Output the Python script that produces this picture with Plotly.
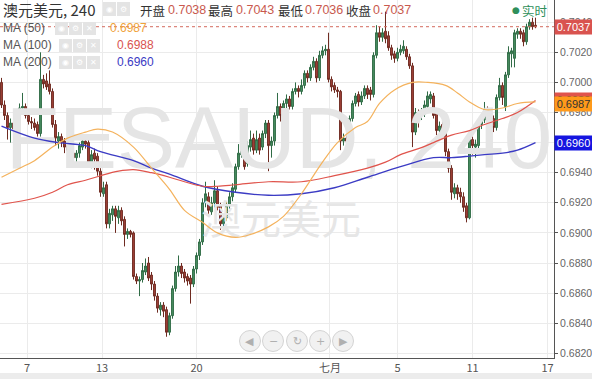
import plotly.graph_objects as go

# ---------------- data ----------------
opens = [0.7000,0.6985,0.6978,0.6970,0.6973,0.6969,0.6977,0.6983,0.6984,0.6978,
         0.6974,0.6973,0.6972,0.6966,0.7002,0.7001,0.6999,0.6994,0.6972,0.6961,
         0.6964,0.6961,0.6958,0.6955,0.6953,0.6950,0.6953,0.6957,0.6961,0.6960,
         0.6947,0.6953,0.6951,0.6941,0.6926,0.6932,0.6906,0.6912,0.6916,0.6910,
         0.6915,0.6909,0.6899,0.6901,0.6900,0.6871,0.6868,0.6869,0.6874,0.6880,
         0.6872,0.6866,0.6858,0.6849,0.6852,0.6849,0.6834,0.6845,0.6863,0.6874,
         0.6878,0.6874,0.6871,0.6870,0.6866,0.6876,0.6885,0.6894,0.6920,0.6924,
         0.6914,0.6920,0.6928,0.6918,0.6906,0.6910,0.6918,0.6924,0.6929,0.6944,
         0.6952,0.6955,0.6946,0.6957,0.6963,0.6955,0.6963,0.6957,0.6966,0.6973,
         0.6958,0.6961,0.6978,0.6984,0.6978,0.6986,0.6989,0.6984,0.6994,0.6996,
         0.6994,0.6998,0.7006,0.7003,0.7010,0.7014,0.7003,0.7018,0.7021,0.7022,
         0.7002,0.6998,0.6995,0.6994,0.6961,0.6963,0.6962,0.6976,0.6986,0.6992,
         0.6987,0.6991,0.6996,0.6995,0.6992,0.7018,0.7033,0.7030,0.7034,0.7031,
         0.7023,0.7019,0.7016,0.7020,0.7021,0.7022,0.7017,0.7011,0.6967,0.6980,
         0.6978,0.6979,0.6984,0.6989,0.6991,0.6980,0.6968,0.6972,0.6968,0.6954,
         0.6943,0.6926,0.6930,0.6927,0.6924,0.6918,0.6910,0.6962,0.6957,0.6958,
         0.6972,0.6975,0.6982,0.6979,0.6976,0.6970,0.6990,0.6998,0.6984,0.7005,
         0.7019,0.7016,0.7032,0.7034,0.7033,0.7027,0.7037,0.7040,0.7038]
highs = [0.7003,0.6988,0.6980,0.6976,0.6975,0.6979,0.6986,0.6993,0.6986,0.6980,
         0.6977,0.6976,0.6974,0.7020,0.7005,0.7006,0.7008,0.6996,0.6975,0.6967,
         0.6966,0.6963,0.6961,0.6958,0.6956,0.6955,0.6960,0.6965,0.6963,0.6962,
         0.6955,0.6956,0.6953,0.6943,0.6934,0.6934,0.6916,0.6918,0.6918,0.6918,
         0.6917,0.6911,0.6903,0.6902,0.6901,0.6873,0.6871,0.6880,0.6883,0.6884,
         0.6874,0.6868,0.6860,0.6854,0.6854,0.6851,0.6847,0.6865,0.6878,0.6885,
         0.6880,0.6876,0.6873,0.6872,0.6878,0.6887,0.6896,0.6923,0.6934,0.6927,
         0.6924,0.6935,0.6931,0.6920,0.6913,0.6921,0.6927,0.6933,0.6946,0.6959,
         0.6960,0.6958,0.6961,0.6968,0.6966,0.6968,0.6966,0.6968,0.6975,0.6975,
         0.6964,0.6980,0.6993,0.6986,0.6988,0.6992,0.6991,0.6996,0.7000,0.6998,
         0.7002,0.7008,0.7008,0.7012,0.7017,0.7016,0.7021,0.7024,0.7025,0.7033,
         0.7004,0.7000,0.6997,0.6995,0.6966,0.6965,0.6978,0.6988,0.6993,0.6994,
         0.6994,0.6998,0.6998,0.6997,0.7020,0.7038,0.7037,0.7036,0.7047,0.7034,
         0.7025,0.7021,0.7023,0.7025,0.7028,0.7024,0.7019,0.7013,0.6983,0.6982,
         0.6983,0.6988,0.6994,0.6994,0.6993,0.6982,0.6974,0.6975,0.6970,0.6956,
         0.6945,0.6933,0.6932,0.6930,0.6927,0.6920,0.6965,0.6964,0.6962,0.6975,
         0.6978,0.6987,0.6984,0.6981,0.6978,0.6992,0.7003,0.7000,0.7007,0.7024,
         0.7023,0.7035,0.7036,0.7036,0.7035,0.7039,0.7042,0.7043,0.7043]
lows = [0.6983,0.6975,0.6962,0.6960,0.6962,0.6966,0.6975,0.6979,0.6976,0.6972,
        0.6969,0.6968,0.6964,0.6964,0.6996,0.6995,0.6992,0.6970,0.6958,0.6956,
        0.6957,0.6953,0.6950,0.6946,0.6947,0.6947,0.6950,0.6955,0.6956,0.6944,
        0.6943,0.6942,0.6938,0.6924,0.6924,0.6903,0.6903,0.6908,0.6900,0.6906,
        0.6905,0.6891,0.6896,0.6897,0.6869,0.6866,0.6858,0.6867,0.6872,0.6868,
        0.6862,0.6855,0.6847,0.6845,0.6844,0.6831,0.6832,0.6843,0.6861,0.6871,
        0.6870,0.6867,0.6865,0.6853,0.6864,0.6873,0.6882,0.6892,0.6917,0.6912,
        0.6912,0.6917,0.6915,0.6902,0.6903,0.6908,0.6916,0.6921,0.6927,0.6942,
        0.6950,0.6942,0.6944,0.6954,0.6952,0.6953,0.6952,0.6955,0.6963,0.6941,
        0.6950,0.6958,0.6976,0.6974,0.6976,0.6983,0.6982,0.6982,0.6992,0.6990,
        0.6992,0.6996,0.7000,0.7001,0.7008,0.7000,0.7001,0.7016,0.7018,0.7000,
        0.6994,0.6993,0.6990,0.6955,0.6958,0.6956,0.6954,0.6974,0.6984,0.6984,
        0.6985,0.6989,0.6989,0.6988,0.6990,0.7016,0.7027,0.7027,0.7026,0.7021,
        0.7015,0.7013,0.7014,0.7018,0.7019,0.7015,0.7009,0.6957,0.6965,0.6970,
        0.6975,0.6977,0.6982,0.6986,0.6976,0.6965,0.6965,0.6963,0.6951,0.6940,
        0.6922,0.6923,0.6922,0.6920,0.6914,0.6907,0.6909,0.6952,0.6950,0.6955,
        0.6969,0.6973,0.6975,0.6972,0.6967,0.6968,0.6988,0.6985,0.6981,0.7003,
        0.7010,0.7010,0.7029,0.7029,0.7024,0.7025,0.7035,0.7035,0.7036]
closes = [0.6985,0.6978,0.6970,0.6973,0.6969,0.6977,0.6983,0.6984,0.6978,0.6974,
          0.6973,0.6970,0.6966,0.7002,0.6999,0.6997,0.6994,0.6972,0.6963,0.6964,
          0.6960,0.6957,0.6955,0.6951,0.6950,0.6953,0.6958,0.6961,0.6959,0.6947,
          0.6952,0.6949,0.6941,0.6927,0.6930,0.6906,0.6913,0.6916,0.6911,0.6915,
          0.6908,0.6899,0.6901,0.6899,0.6871,0.6868,0.6869,0.6875,0.6878,0.6870,
          0.6866,0.6858,0.6850,0.6852,0.6848,0.6834,0.6845,0.6863,0.6874,0.6878,
          0.6873,0.6870,0.6868,0.6866,0.6876,0.6885,0.6894,0.6920,0.6926,0.6915,
          0.6920,0.6928,0.6917,0.6906,0.6910,0.6919,0.6924,0.6930,0.6944,0.6953,
          0.6956,0.6944,0.6958,0.6962,0.6955,0.6962,0.6955,0.6966,0.6973,0.6958,
          0.6961,0.6978,0.6984,0.6978,0.6986,0.6989,0.6984,0.6994,0.6996,0.6994,
          0.6998,0.7006,0.7003,0.7010,0.7014,0.7003,0.7018,0.7021,0.7022,0.7002,
          0.6997,0.6995,0.6994,0.6961,0.6963,0.6961,0.6976,0.6986,0.6991,0.6987,
          0.6991,0.6996,0.6992,0.6992,0.7018,0.7033,0.7030,0.7033,0.7029,0.7023,
          0.7018,0.7016,0.7020,0.7022,0.7024,0.7017,0.7011,0.6967,0.6980,0.6978,
          0.6980,0.6985,0.6991,0.6992,0.6978,0.6968,0.6971,0.6966,0.6954,0.6943,
          0.6927,0.6930,0.6926,0.6924,0.6917,0.6910,0.6962,0.6958,0.6959,0.6972,
          0.6975,0.6982,0.6978,0.6975,0.6970,0.6990,0.6998,0.6990,0.7005,0.7020,
          0.7021,0.7033,0.7034,0.7032,0.7027,0.7037,0.7040,0.7037,0.7037]
bars = list(range(len(closes)))

ma50_x = [0, 6, 11, 17, 22, 28, 32, 37, 44, 50, 56, 61, 67, 72, 78, 83, 89, 94, 100,
          103, 107, 112, 118, 122, 126, 131, 137, 142, 148, 152, 156, 161, 167, 172, 178]
ma50_y = [0.6937, 0.6943, 0.6948, 0.6957, 0.6963, 0.6967, 0.6969, 0.6967, 0.6957, 0.6943,
          0.6929, 0.6915, 0.6907, 0.6900, 0.6897, 0.6899, 0.6904, 0.6911, 0.6926,
          0.6935, 0.6947, 0.6960, 0.6970, 0.6974, 0.6986, 0.6995, 0.7000, 0.7000,
          0.6998, 0.6993, 0.6987, 0.6982, 0.6983, 0.6986, 0.6987]
ma100_x = [0, 11, 17, 22, 28, 33, 39, 44, 50, 56, 61, 67, 72, 78, 89, 100, 111, 122,
           128, 133, 139, 144, 150, 156, 161, 167, 172, 178]
ma100_y = [0.6919, 0.6923, 0.6927, 0.6932, 0.6935, 0.6938, 0.6941, 0.6942, 0.6940,
           0.6937, 0.6934, 0.6931, 0.6931, 0.6932, 0.6934, 0.6934, 0.6938, 0.6943,
           0.6947, 0.6952, 0.6956, 0.6960, 0.6965, 0.6968, 0.6972, 0.6976, 0.6980, 0.6988]
ma200_x = [0, 11, 19, 28, 33, 44, 50, 56, 67, 78, 89, 100, 111, 122, 133, 144, 150,
           156, 161, 167, 172, 178]
ma200_y = [0.6971, 0.6963, 0.6960, 0.6958, 0.6954, 0.6948, 0.6943, 0.6939, 0.6931,
           0.6927, 0.6925, 0.6926, 0.6930, 0.6937, 0.6944, 0.6950, 0.6950, 0.6951,
           0.6952, 0.6953, 0.6955, 0.6960]

tick_pos = [8.5, 33.5, 65, 109.5, 132, 157, 182]
tick_text = ["7", "13", "20", "七月", "5", "11", "17"]

last_open, last_high, last_low, last_close = 0.7038, 0.7043, 0.7036, 0.7037
ma50_last, ma100_last, ma200_last = 0.6987, 0.6988, 0.6960

# ---------------- layout geometry ----------------
W, H = 592, 379
PW, PH = 554, 358
Y0, Y1 = 0.681688, 0.705475
X0, X1 = -0.5, 184.17
FONT = "Liberation Sans, Noto Sans CJK SC, sans-serif"
CJK = "Noto Sans CJK SC, Liberation Sans, sans-serif"

def px(x):
    return x / PW

def py(y):
    return 1 - y / PH

def ix(x):
    return X0 + (X1 - X0) * x / PW

def vy(y):
    return Y1 - (Y1 - Y0) * y / PH

fig = go.Figure()

# watermark (drawn first so it stays under the candles)
fig.add_trace(go.Scatter(x=[ix(279)], y=[vy(146)], mode="text", text=["FESAUD, 240"],
                         textposition="middle center",
                         textfont=dict(size=87, color="#e5e5e5", family=FONT),
                         hoverinfo="skip", showlegend=False))
fig.add_trace(go.Scatter(x=[ix(281)], y=[vy(224)], mode="text", text=["澳元美元"],
                         textposition="middle center",
                         textfont=dict(size=40, color="#e6e6e6", family=CJK),
                         hoverinfo="skip", showlegend=False))

fig.add_trace(go.Candlestick(
    x=bars, open=opens, high=highs, low=lows, close=closes,
    increasing=dict(line=dict(color="#2f6b45", width=1), fillcolor="#4a8e62"),
    decreasing=dict(line=dict(color="#6e2a20", width=1), fillcolor="#a3453a"),
    whiskerwidth=0, hoverinfo="skip", showlegend=False))

fig.add_trace(go.Scatter(x=ma200_x, y=ma200_y, mode="lines",
                         line=dict(color="#3b3bc4", width=1.4, shape="spline"),
                         hoverinfo="skip", showlegend=False))
fig.add_trace(go.Scatter(x=ma100_x, y=ma100_y, mode="lines",
                         line=dict(color="#e0544c", width=1.2, shape="spline"),
                         hoverinfo="skip", showlegend=False))
fig.add_trace(go.Scatter(x=ma50_x, y=ma50_y, mode="lines",
                         line=dict(color="#f4b25c", width=1.2, shape="spline"),
                         hoverinfo="skip", showlegend=False))

shapes = []
# current-price dotted line
shapes.append(dict(type="line", xref="paper", yref="y", x0=0, x1=1,
                   y0=last_close, y1=last_close,
                   line=dict(color="#d46a5e", width=1, dash="dot")))
# bottom grey strip
shapes.append(dict(type="rect", xref="paper", yref="paper", x0=-0.01, x1=px(600),
                   y0=py(380), y1=py(373), fillcolor="#ececec", line=dict(width=0),
                   layer="above"))

annotations = []

def text(x, y, s, size=12, color="#444", family=FONT, anchor="left"):
    annotations.append(dict(xref="paper", yref="paper", x=px(x), y=py(y), text=s,
                            showarrow=False, xanchor=anchor, yanchor="middle",
                            font=dict(size=size, color=color, family=family)))

def icon_box(x, y, w, h, glyph):
    shapes.append(dict(type="rect", xref="paper", yref="paper", x0=px(x), x1=px(x + w),
                       y0=py(y + h), y1=py(y), fillcolor="#e4e4e4",
                       line=dict(width=0)))
    annotations.append(dict(xref="paper", yref="paper", x=px(x + w / 2), y=py(y + h / 2),
                            text=glyph, showarrow=False, xanchor="center",
                            yanchor="middle",
                            font=dict(size=8, color="#ffffff", family="DejaVu Sans")))

# header
text(1, 9, "澳元美元, 240", size=15, color="#333", family=CJK)
icon_box(103, 2, 13, 14, "◉")
icon_box(117, 2, 13, 14, "⚙")
val_col = "#c9594e"
text(138, 10, "开盘", 12.5, "#333", CJK)
text(166, 10, "%.4f" % last_open, 12.5, val_col)
text(206, 10, "最高", 12.5, "#333", CJK)
text(234, 10, "%.4f" % last_high, 12.5, val_col)
text(276, 10, "最低", 12.5, "#333", CJK)
text(303, 10, "%.4f" % last_low, 12.5, val_col)
text(344, 10, "收盘", 12.5, "#333", CJK)
text(371, 10, "%.4f" % last_close, 12.5, val_col)
text(510, 10, "●", 9, "#2f8f5b", "DejaVu Sans")
text(520, 10, "实时", 12.5, "#2f8f5b", CJK)

# MA legend rows
text(1, 28, "MA (50)", 12, "#555")
for k, g in enumerate(["◉", "⚙", "✕"]):
    icon_box(55 + 14 * k, 22, 13, 13, g)
text(108, 28, "%.4f" % ma50_last, 12, "#f0a23a")
text(1, 45, "MA (100)", 12, "#555")
for k, g in enumerate(["◉", "⚙", "✕"]):
    icon_box(59 + 14 * k, 39, 13, 13, g)
text(115, 45, "%.4f" % ma100_last, 12, "#d9534f")
text(1, 62, "MA (200)", 12, "#555")
for k, g in enumerate(["◉", "⚙", "✕"]):
    icon_box(59 + 14 * k, 56, 13, 13, g)
text(115, 62, "%.4f" % ma200_last, 12, "#3b3bc4")

# right-side price tags
def tag(price, bg, fg, dy=0):
    annotations.append(dict(xref="paper", yref="y", x=1.0, y=price, yshift=dy,
                            text="%.4f" % price, showarrow=False, xanchor="left",
                            yanchor="middle", bgcolor=bg, borderpad=1, width=35,
                            font=dict(size=11, color=fg, family=FONT)))

tag(ma100_last, "#e0544c", "#333")
tag(ma50_last, "#ff9a1a", "#333", dy=-2)
tag(ma200_last, "#1515e0", "#ffffff")
tag(last_close, "#d9534f", "#ffffff")

# navigation buttons
for cx, g in zip([250, 273, 297, 320, 343], ["◀", "−", "↻", "+", "▶"]):
    r = 10.5
    shapes.append(dict(type="circle", xref="paper", yref="paper",
                       x0=px(cx - r), x1=px(cx + r), y0=py(341 + r), y1=py(341 - r),
                       fillcolor="rgba(240,240,240,0.9)", line=dict(color="#d4d4d4", width=1)))
    annotations.append(dict(xref="paper", yref="paper", x=px(cx), y=py(341), text=g,
                            showarrow=False, xanchor="center", yanchor="middle",
                            font=dict(size=11, color="#b0b0b0", family="DejaVu Sans")))

fig.update_layout(
    width=W, height=H,
    margin=dict(l=0, r=W - PW, t=0, b=H - PH),
    paper_bgcolor="white", plot_bgcolor="white",
    showlegend=False, boxgap=0.12,
    shapes=shapes, annotations=annotations,
    font=dict(family=FONT),
    xaxis=dict(range=[X0, X1], tickvals=tick_pos, ticktext=tick_text,
               showgrid=True, gridcolor="#ebebeb", gridwidth=1,
               showline=True, linecolor="#555", linewidth=1, mirror=False,
               ticks="", zeroline=False, rangeslider=dict(visible=False),
               tickfont=dict(size=11, color="#555", family=CJK),
               fixedrange=True),
    yaxis=dict(range=[Y0, Y1], side="right", dtick=0.002, tick0=0.682,
               tickformat=".4f", ticks="outside", ticklen=3, tickcolor="#555",
               showline=True, linecolor="#555", linewidth=1,
               showgrid=True, gridcolor="#ebebeb", gridwidth=1, zeroline=False,
               tickfont=dict(size=10.5, color="#666", family=FONT),
               fixedrange=True),
)

fig.write_html("out.html", config={"displayModeBar": False},
               post_script="document.body.style.margin='0';document.body.style.overflow='hidden';")
